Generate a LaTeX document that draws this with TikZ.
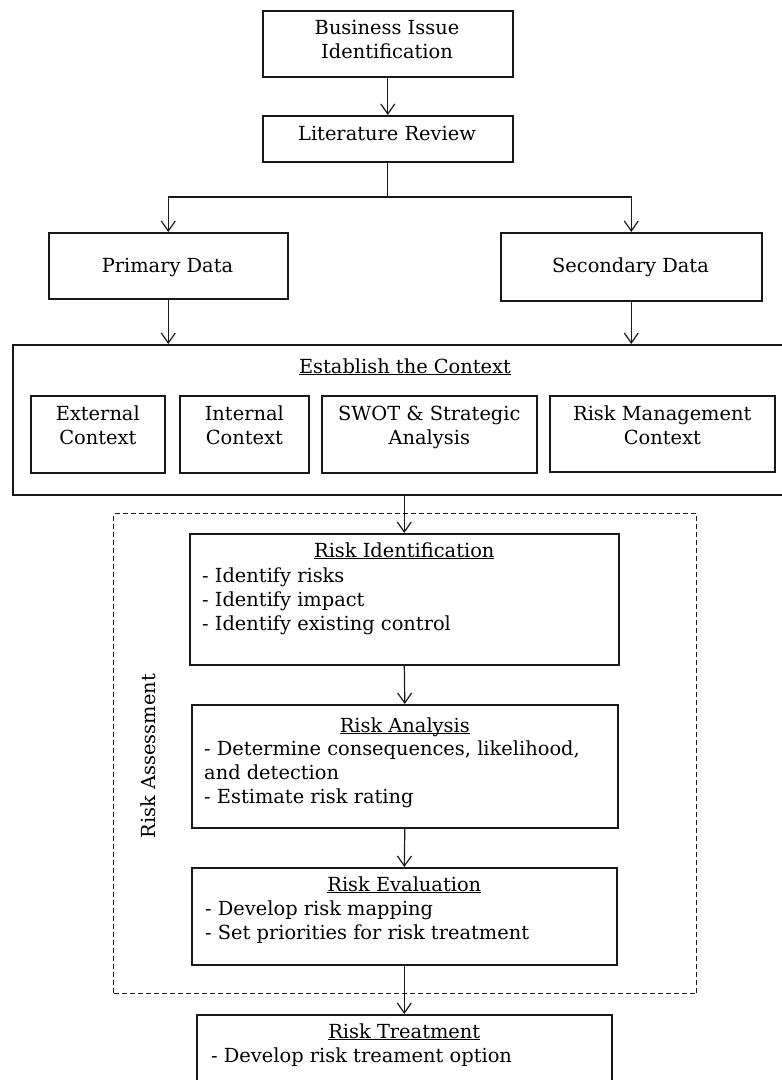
\documentclass[tikz,border=0pt]{standalone}
\usepackage{fontspec}
\setmainfont{DejaVu Serif}
\usetikzlibrary{arrows.meta}
\newcommand\uln[1]{$\underline{\smash{\hbox{#1}}}$}
\begin{document}
\begin{tikzpicture}[x=1pt,y=-1pt,
  font=\fontsize{19.4}{24}\selectfont,
  box/.style={draw=black!90, line width=1.6pt, inner sep=0, anchor=north west},
  dbox/.style={draw=black!90, line width=1.2pt, dash pattern=on 5pt off 3pt, inner sep=0, anchor=north west},
  link/.style={draw=black!90, line width=1.2pt},
  arr/.style={link, -{Straight Barb[length=10pt,width=14pt,line width=1.2pt]}},
  ctext/.style={inner sep=0, anchor=north, align=center, text=black},
  ltext/.style={inner sep=0, anchor=north west, align=left, text=black},
  ttext/.style={inner sep=0, anchor=base, text=black},
]
\useasboundingbox (0,0) rectangle (782,1080);
\fill[white] (0,0) rectangle (782,1080);

% top
\node[box, minimum width=250, minimum height=66] (bus) at (262,10) {};
\node[ctext] (bust) at (387,17.2) {\strut Business Issue\\Identification};
\node[box, minimum width=250, minimum height=46] (lit) at (262,115) {};
\node[ttext] (litt) at (387,140) {Literature Review};
\draw[arr] (bus.south) -- (lit.north);

% data
\node[box, minimum width=239, minimum height=66] (prim) at (48,232) {};
\node[ttext] (primt) at (167.5,272) {Primary Data};
\node[box, minimum width=261, minimum height=68] (sec) at (500,232) {};
\node[ttext] (sect) at (630.5,272) {Secondary Data};
\coordinate (j) at (lit.south |- 0,197);
\draw[link] (lit.south) -- (j);
\draw[arr] (j) -| (prim.north);
\draw[arr] (j) -| (sec.north);

% context
\node[box, minimum width=773, minimum height=150] (ctx) at (12,344) {};
\node[ttext] (ctxt) at (405,373) {\uln{Establish the Context}};
\draw[arr] (prim.south) -- (prim.south |- ctx.north);
\draw[arr] (sec.south) -- (sec.south |- ctx.north);

\node[box, minimum width=134, minimum height=77] (ext) at (30,395) {};
\node[ctext] (extt) at (ext.north |- 0,403.2) {\strut External\\Context};
\node[box, minimum width=129, minimum height=77] (int) at (179,395) {};
\node[ctext] (intt) at (int.north |- 0,403.2) {\strut Internal\\Context};
\node[box, minimum width=215, minimum height=77] (swot) at (321,395) {};
\node[ctext] (swott) at (swot.north |- 0,403.2) {\strut SWOT \& Strategic\\Analysis};
\node[box, minimum width=225, minimum height=76] (rmc) at (549,395) {};
\node[ctext] (rmct) at (rmc.north |- 0,403.2) {\strut Risk Management\\Context};

% risk assessment
\node[dbox, minimum width=583, minimum height=480] (assess) at (113,513) {};
\node[inner sep=0, rotate=90, text=black] (assesst) at (148,756) {Risk Assessment};

\node[box, minimum width=429, minimum height=131] (ri) at (189,533) {};
\node[ttext] (rit) at (ri.north |- 0,557) {\uln{Risk Identification}};
\node[ltext] (ril) at (202,565.2) {\strut- Identify risks\\- Identify impact\\- Identify existing control};
\draw[arr] (ri.north |- ctx.south) -- (ri.north);

\node[box, minimum width=426, minimum height=123] (ra) at (191,704) {};
\node[ttext] (rat) at (ra.north |- 0,732) {\uln{Risk Analysis}};
\node[ltext] (ral) at (204,738.2) {\strut- Determine consequences, likelihood,\\and detection\\- Estimate risk rating};
\draw[arr] (ri.south) -- (ra.north);

\node[box, minimum width=425, minimum height=97] (re) at (191,867) {};
\node[ttext] (ret) at (re.north |- 0,891) {\uln{Risk Evaluation}};
\node[ltext] (rel) at (205,898.2) {\strut- Develop risk mapping\\- Set priorities for risk treatment};
\draw[arr] (ra.south) -- (re.north);

\node[box, minimum width=415, minimum height=80] (rt) at (196,1014) {};
\node[ttext] (rtt) at (rt.north |- 0,1038) {\uln{Risk Treatment}};
\node[ltext] (rtl) at (211,1045.2) {\strut- Develop risk treament option};
\draw[arr] (re.south) -- (rt.north);
\end{tikzpicture}
\end{document}
